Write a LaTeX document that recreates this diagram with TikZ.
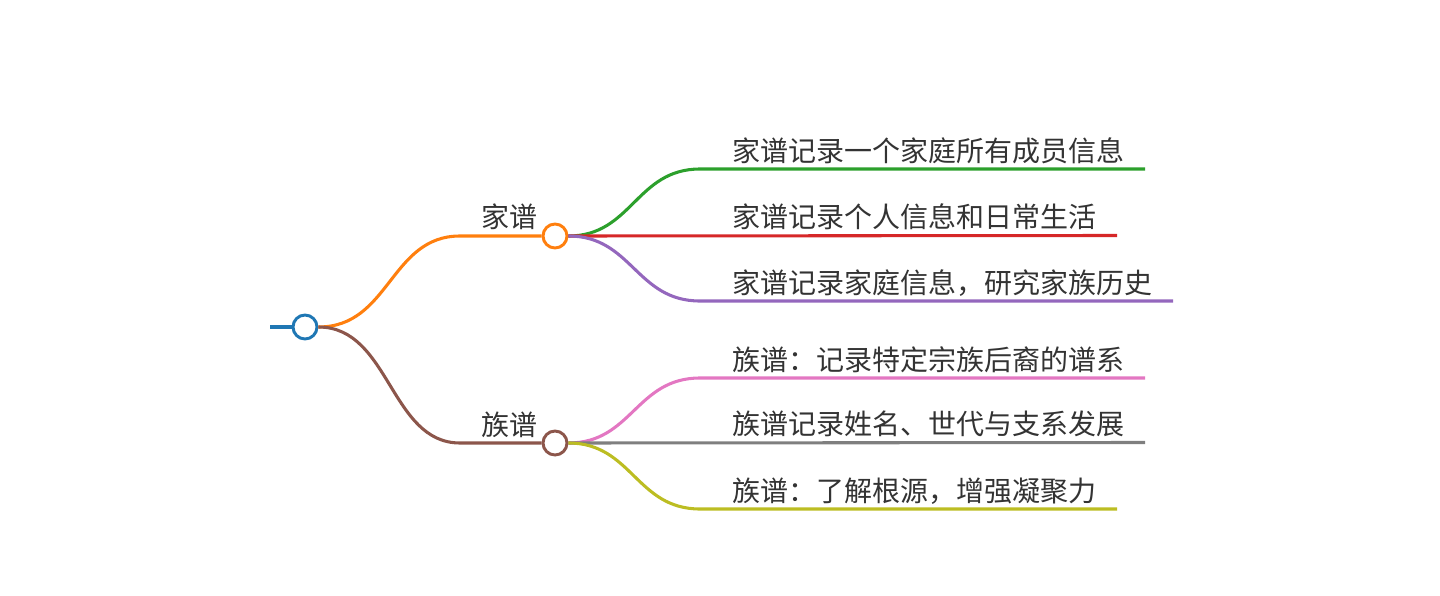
\documentclass[tikz,border=0pt]{standalone}
\usepackage{fontspec}
\setmainfont{Noto Sans CJK SC}
\usepackage{xcolor}
\usetikzlibrary{positioning}
\definecolor{rootblue}{HTML}{1F77B4}
\definecolor{jporange}{HTML}{FF7F0E}
\definecolor{zpbrown}{HTML}{8C564B}
\definecolor{leafgreen}{HTML}{2CA02C}
\definecolor{leafred}{HTML}{D62728}
\definecolor{leafpurple}{HTML}{9467BD}
\definecolor{leafpink}{HTML}{E377C2}
\definecolor{leafgray}{HTML}{7F7F7F}
\definecolor{leafolive}{HTML}{BCBD22}
\definecolor{textgray}{HTML}{333333}

\begin{document}
\begin{tikzpicture}[x=0.75pt, y=-0.75pt,
    hub/.style={circle, draw, line width=2.2pt, fill=white, minimum size=18pt, inner sep=0pt},
    edge/.style={line width=2.3pt},
    leaf/.style={anchor=base west, inner sep=0pt, text=textgray, font=\fontsize{21}{25}\selectfont},
    branchlabel/.style={anchor=base east, inner sep=0pt, text=textgray, font=\fontsize{21}{25}\selectfont}]
    \useasboundingbox (0,0) rectangle (1440,596);

    % Hubs
    \node[hub, draw=rootblue] (root) at (305,327) {};
    \node[hub, draw=jporange] (jp) at (555,236) {};
    \node[hub, draw=zpbrown] (zp) at (555,443) {};
    \node[branchlabel] (jplabel) at (538,227) {家谱};
    \node[branchlabel] (zplabel) at (538,435) {族谱};

    % Root stem and branches
    \coordinate (rootin) at (270,327);
    \coordinate (jpknee) at (460,236);
    \coordinate (zpknee) at (460,443);
    \draw[edge, rootblue, line width=3pt] (rootin) -- (root.west);
    \draw[edge, jporange] (root.east) .. controls (390,327) and (390,236) .. (jpknee) -- (jp.west);
    \draw[edge, zpbrown] (root.east) .. controls (390,327) and (390,443) .. (zpknee) -- (zp.west);

    % Leaves of 家谱
    \node[leaf] (l1) at (732,161) {家谱记录一个家庭所有成员信息};
    \node[leaf] (l2) at (732,227) {家谱记录个人信息和日常生活};
    \node[leaf] (l3) at (732,293) {家谱记录家庭信息，研究家族历史};
    \coordinate (k1) at (700,169);
    \coordinate (e1) at (1145,169);
    \coordinate (e2) at (1117,235.5);
    \coordinate (k3) at (700,301);
    \coordinate (e3) at (1173,301);
    \draw[edge, leafgreen] (jp.east) .. controls (632,236) and (636,169) .. (k1) -- (e1);
    \draw[edge, leafred] (jp.east) -- (e2);
    \draw[edge, leafpurple] (jp.east) .. controls (632,236) and (636,301) .. (k3) -- (e3);

    % Leaves of 族谱
    \node[leaf] (l4) at (732,370) {族谱：记录特定宗族后裔的谱系};
    \node[leaf] (l5) at (732,434) {族谱记录姓名、世代与支系发展};
    \node[leaf] (l6) at (732,501) {族谱：了解根源，增强凝聚力};
    \coordinate (k4) at (700,378);
    \coordinate (e4) at (1145,378);
    \coordinate (e5) at (1145,442.5);
    \coordinate (k6) at (700,509);
    \coordinate (e6) at (1117,509);
    \draw[edge, leafpink] (zp.east) .. controls (632,443) and (636,378) .. (k4) -- (e4);
    \draw[edge, leafgray] (zp.east) -- (e5);
    \draw[edge, leafolive] (zp.east) .. controls (632,443) and (636,509) .. (k6) -- (e6);

\end{tikzpicture}
\end{document}
